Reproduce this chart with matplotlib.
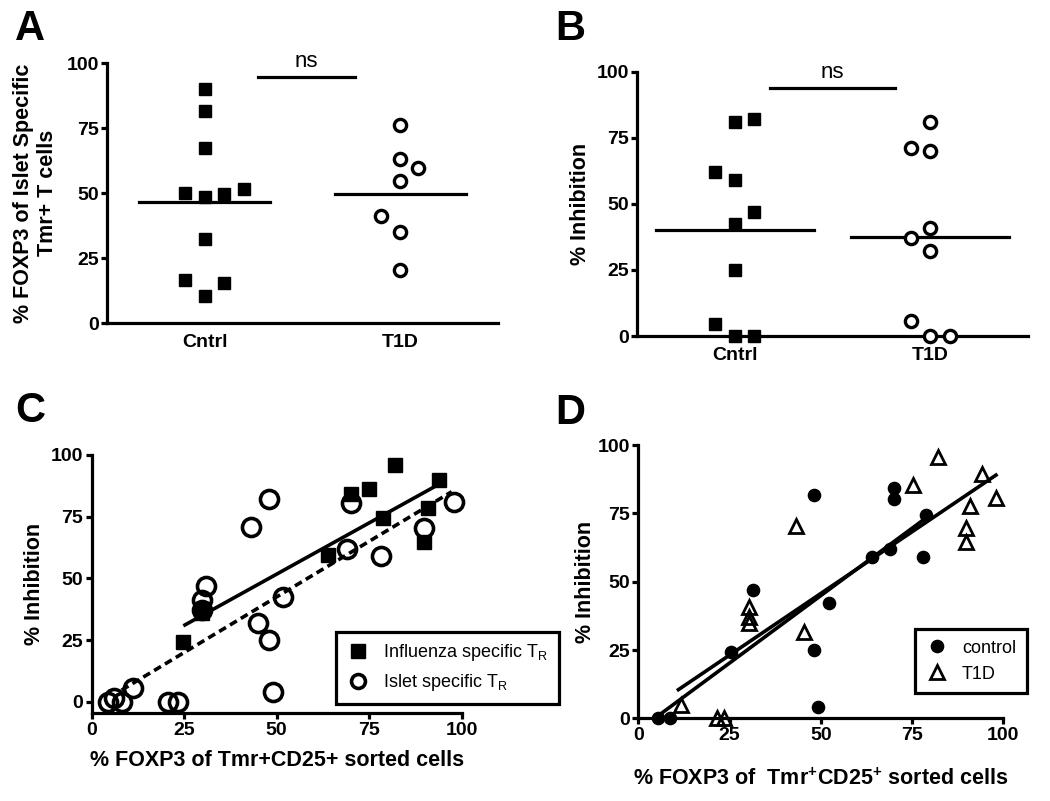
import matplotlib
matplotlib.use('Agg')
import matplotlib.pyplot as plt

plt.rcParams['font.family'] = ['Liberation Sans', 'DejaVu Sans']

# ---- data ----
# panel A: % FOXP3 of islet specific Tmr+ T cells
a_cntrl = [90, 81.5, 67.5, 50, 48.5, 49.5, 51.5, 32.5, 16.5, 15.5, 10.5]
a_cntrl_dx = [0, 0, 0, -0.1, 0, 0.1, 0.2, 0, -0.1, 0.1, 0]
a_t1d = [76, 63, 59.5, 54.5, 41, 35, 20.5]
a_t1d_dx = [0, 0, 0.09, 0, -0.1, 0, 0]
a_means = [46.5, 49.7]

# panel B: % inhibition
b_cntrl = [62, 59, 81, 82, 47, 42.5, 25, 4.5, 0, 0]
b_cntrl_dx = [-0.1, 0, 0, 0.1, 0.1, 0, 0, -0.1, 0, 0.1]
b_t1d = [81, 71, 70, 41, 37, 32, 5.5, 0, 0]
b_t1d_dx = [0, -0.1, 0, 0, -0.1, 0, -0.1, 0, 0.1]
b_means = [40, 37.5]

categories = ['Cntrl', 'T1D']

# panel C
c_flu_x = [82, 94, 75, 70, 78.8, 91, 89.8, 64, 29.7, 30, 24.8]
c_flu_y = [95.9, 89.9, 86.1, 84.2, 74.3, 78.4, 64.9, 59.5, 35.8, 37.5, 24.3]
c_islet_x = [4.5, 6, 8.1, 11.1, 20.7, 23.2, 29.7, 30.9, 29.7, 43, 48, 44.9, 48,
             48.9, 51.8, 68.9, 70, 78.1, 89.8, 97.9]
c_islet_y = [0, 1.5, 0, 5.4, 0, 0, 41.2, 47, 37.2, 70.9, 82, 32, 25, 4.1, 42.3,
             61.8, 80.4, 59, 70.3, 81.1]
c_flu_fit_x = [25.2, 94.3]
c_flu_fit_y = [31.1, 88.5]
c_islet_fit_x = [8.1, 97.3]
c_islet_fit_y = [4.7, 85.1]

# panel D
d_ctrl_x = [5.5, 8.7, 25.3, 31.5, 48.1, 48.1, 49.3, 52.2, 63.9, 69, 70, 70, 78.1, 78.8]
d_ctrl_y = [0, 0, 24.4, 47, 81.7, 25, 4.3, 42.1, 59.1, 61.8, 84.1, 80.2, 58.9, 74.4]
d_t1d_x = [11.7, 21.6, 23.5, 30.4, 30.4, 30.4, 43.2, 45.4, 75.2, 82.2, 94.1,
           90.9, 89.8, 89.8, 98]
d_t1d_y = [4.9, 0, 0, 40.9, 37.2, 34.8, 70.4, 31.7, 85.4, 95.5, 89.4, 77.7,
           69.5, 64.6, 80.5]
d_ctrl_fit_x = [5, 79]
d_ctrl_fit_y = [0.5, 73.5]
d_t1d_fit_x = [11, 98]
d_t1d_fit_y = [10.5, 89]

ticks = [0, 25, 50, 75, 100]
LW = 2.3
TFS = 14


def style(ax):
    for s in ['top', 'right']:
        ax.spines[s].set_visible(False)
    for s in ['left', 'bottom']:
        ax.spines[s].set_linewidth(LW)
    ax.tick_params(width=LW, length=4, labelsize=TFS, pad=2)
    for lab in ax.get_xticklabels() + ax.get_yticklabels():
        lab.set_fontweight('bold')


def legend(ax, anchor):
    leg = ax.legend(loc='lower left', bbox_to_anchor=anchor, fontsize=13,
                    frameon=True, fancybox=False, edgecolor='black', framealpha=1,
                    handletextpad=0.8, borderpad=0.6, labelspacing=0.5,
                    handlelength=1.2)
    leg.get_frame().set_linewidth(LW)
    return leg


fig = plt.figure(figsize=(10.5, 8.01), dpi=100)


# ---- A & B: dot plots ----
def dotplot(ax, cntrl, cdx, t1d, tdx, means, half, ns_x, ns_y):
    ax.plot([0 + d for d in cdx], cntrl, 's', color='black', ms=8.5,
            clip_on=False, zorder=3)
    ax.plot([1 + d for d in tdx], t1d, 'o', mfc='white', mec='black', ms=8.8,
            mew=2.4, clip_on=False, zorder=3)
    for i, m in enumerate(means):
        ax.plot([i - half, i + half], [m, m], color='black', lw=LW)
    ax.plot(ns_x, [ns_y, ns_y], color='black', lw=LW)
    ax.text(sum(ns_x) / 2, ns_y + 2, 'ns', ha='center', va='bottom', fontsize=16)
    ax.set_xlim(-0.5, 1.5)
    ax.set_ylim(0, 100)
    ax.set_yticks(ticks)
    ax.set_xticks([0, 1])
    ax.set_xticklabels(categories)
    style(ax)
    ax.tick_params(axis='x', length=0, pad=8)


axA = fig.add_axes([0.1019, 0.5967, 0.3724, 0.3246])
dotplot(axA, a_cntrl, a_cntrl_dx, a_t1d, a_t1d_dx, a_means, 0.335, [0.274, 0.77], 94.5)
axA.set_ylabel('% FOXP3 of Islet Specific\nTmr+ T cells', fontsize=15.5,
               fontweight='bold', labelpad=6)

axB = fig.add_axes([0.6067, 0.5805, 0.3724, 0.33])
dotplot(axB, b_cntrl, b_cntrl_dx, b_t1d, b_t1d_dx, b_means, 0.405, [0.18, 0.82], 93.7)
axB.set_ylabel('% Inhibition', fontsize=15.5, fontweight='bold', labelpad=4)

# ---- C ----
axC = fig.add_axes([0.0873, 0.1095, 0.3524, 0.3225])
axC.plot(c_flu_x, c_flu_y, 's', color='black', ms=9.5, clip_on=False, zorder=3,
         label=r'Influenza specific T$_\mathregular{R}$')
axC.plot(c_islet_x, c_islet_y, 'o', mfc='none', mec='black', ms=13, mew=2.6,
         clip_on=False, zorder=4, label=r'Islet specific T$_\mathregular{R}$')
axC.plot(c_flu_fit_x, c_flu_fit_y, '-', color='black', lw=2.6)
axC.plot(c_islet_fit_x, c_islet_fit_y, color='black', lw=2.6, ls=(0, (2.2, 1.3)))
axC.set_xlim(0, 100)
axC.set_ylim(-4.7, 100)
axC.set_xticks(ticks)
axC.set_yticks(ticks)
style(axC)
axC.set_xlabel('% FOXP3 of Tmr+CD25+ sorted cells', fontsize=15.5,
               fontweight='bold', labelpad=8)
axC.set_ylabel('% Inhibition', fontsize=15.5, fontweight='bold', labelpad=4)
legC = legend(axC, (0.636, 0.0))
legC.legend_handles[1].set_markersize(10)

# ---- D ----
axD = fig.add_axes([0.6079, 0.1032, 0.3476, 0.3412])
axD.plot(d_ctrl_x, d_ctrl_y, 'o', color='black', ms=8.8, clip_on=False, zorder=3,
         label='control')
axD.plot(d_t1d_x, d_t1d_y, '^', mfc='none', mec='black', ms=10, mew=2.0,
         clip_on=False, zorder=4, label='T1D')
axD.plot(d_ctrl_fit_x, d_ctrl_fit_y, '-', color='black', lw=2.6)
axD.plot(d_t1d_fit_x, d_t1d_fit_y, '-', color='black', lw=2.6)
axD.set_xlim(0, 100)
axD.set_ylim(0, 100)
axD.set_xticks(ticks)
axD.set_yticks(ticks)
style(axD)
axD.set_xlabel(r'% FOXP3 of  Tmr$^\mathregular{+}$CD25$^\mathregular{+}$ sorted cells',
               fontsize=15.5, fontweight='bold', labelpad=18)
axD.set_ylabel('% Inhibition', fontsize=15.5, fontweight='bold', labelpad=1)
legD = legend(axD, (0.733, 0.058))

# panel letters
for lab, x, y in [('A', 0.029, 0.964), ('B', 0.543, 0.964),
                  ('C', 0.029, 0.487), ('D', 0.543, 0.485)]:
    fig.text(x, y, lab, fontsize=30, fontweight='bold', ha='center', va='center')

fig.savefig('out.png', dpi=100)
